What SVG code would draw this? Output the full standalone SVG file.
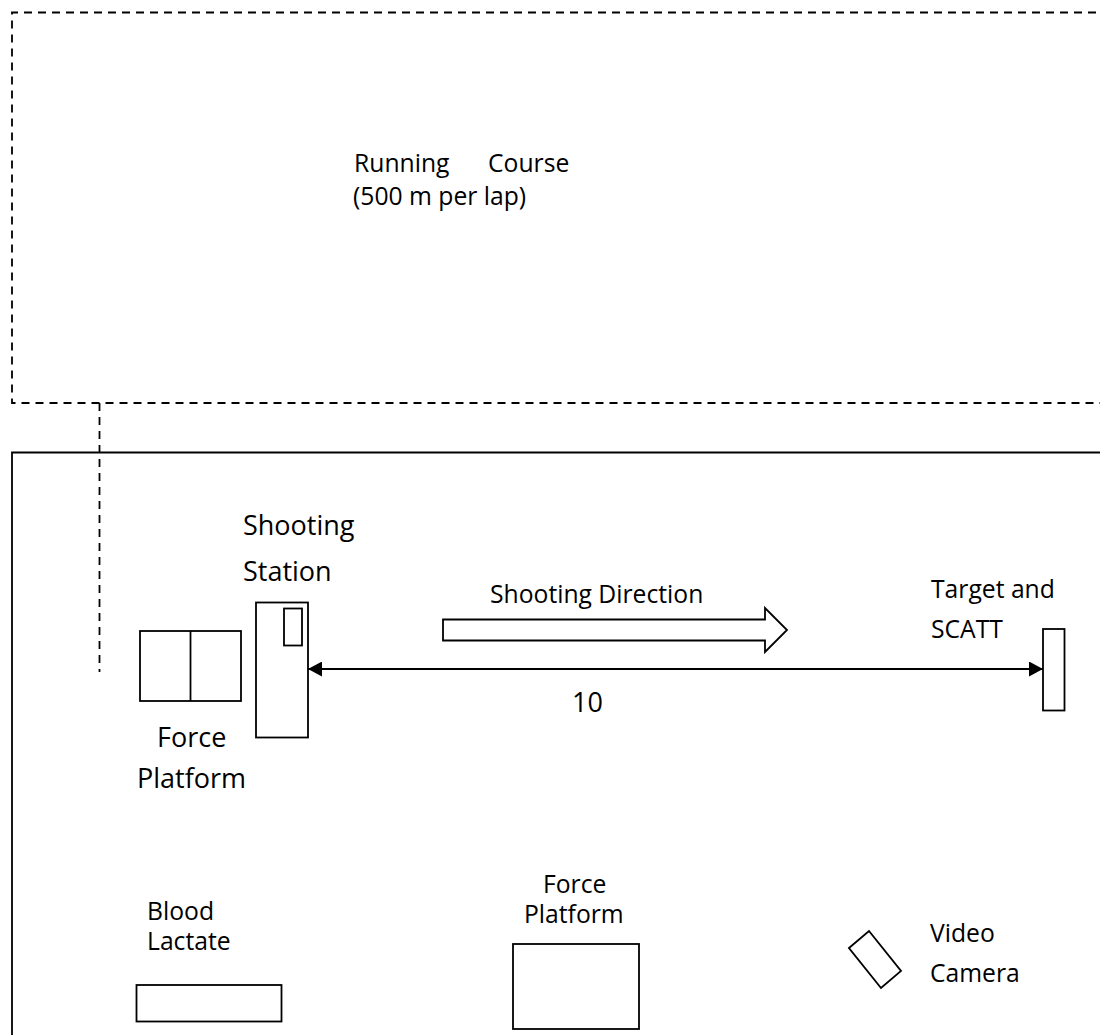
<svg xmlns="http://www.w3.org/2000/svg" width="1100" height="1035" viewBox="0 0 1100 1035">
<defs>
<style>
.ln{fill:none;stroke:#000;stroke-width:1.8}
.box{fill:#fff;stroke:#000;stroke-width:1.8}
.dash{fill:none;stroke:#000;stroke-width:1.8;stroke-dasharray:8 6}
.t{font-family:"Open Sans","Noto Sans","Liberation Sans",sans-serif;font-size:24.7px;fill:#000}
.tl{font-family:"Open Sans","Noto Sans","Liberation Sans",sans-serif;font-size:27px;fill:#000}
</style>
<marker id="ah" viewBox="0 0 14 15" refX="14" refY="7.5" markerWidth="14" markerHeight="15" markerUnits="userSpaceOnUse" orient="auto-start-reverse">
<path d="M0,0 L14,7.5 L0,15 Z" fill="#000"/>
</marker>
</defs>
<rect width="1100" height="1035" fill="#fff"/>
<g id="running-course">
<path class="dash" d="M1110,12.5 H12 V403 H1110"/>
<text class="t" x="354" y="172">Running<tspan x="488">Course</tspan></text>
<text class="t" x="353" y="205">(500 m per lap)</text>
</g>
<g id="range">
<path class="ln" d="M12,1040 V452.5 H1110"/>
</g>
<g id="force-platform-1">
<rect class="box" x="140" y="631" width="101" height="70"/>
<line class="ln" x1="190.5" y1="631" x2="190.5" y2="701"/>
<text class="tl" x="157" y="747">Force</text>
<text class="tl" x="137" y="788">Platform</text>
</g>
<g id="shooting-station">
<rect class="box" x="256" y="602.5" width="52" height="135"/>
<rect class="box" x="284" y="608.5" width="18" height="37"/>
<text class="tl" x="243" y="535">Shooting</text>
<text class="tl" x="243" y="581">Station</text>
</g>
<g id="shooting-direction">
<polygon class="box" points="443,619.5 765,619.5 765,608 787,630 765,652 765,640.5 443,640.5"/>
<text class="t" x="490" y="603">Shooting Direction</text>
</g>
<g id="target">
<rect class="box" x="1043" y="629" width="21.5" height="81.5"/>
<text class="t" x="931" y="598">Target and</text>
<text class="t" x="931" y="638">SCATT</text>
</g>
<g id="blood-lactate">
<rect class="box" x="136.5" y="985" width="145" height="36.5"/>
<text class="t" x="147" y="920">Blood</text>
<text class="t" x="147" y="950">Lactate</text>
</g>
<g id="force-platform-2">
<rect class="box" x="513" y="944" width="126" height="85"/>
<text class="t" x="543" y="893">Force</text>
<text class="t" x="524" y="923">Platform</text>
</g>
<g id="video-camera">
<polygon class="box" points="849,948 869,931 901,971 881,988"/>
<text class="t" x="930" y="942">Video</text>
<text class="t" x="930" y="982">Camera</text>
</g>
<g id="connectors">
<line class="dash" x1="99.5" y1="403" x2="99.5" y2="672"/>
<line class="ln" x1="308" y1="669" x2="1043" y2="669" marker-start="url(#ah)" marker-end="url(#ah)"/>
<text class="tl" x="572" y="712">10</text>
</g>
</svg>
